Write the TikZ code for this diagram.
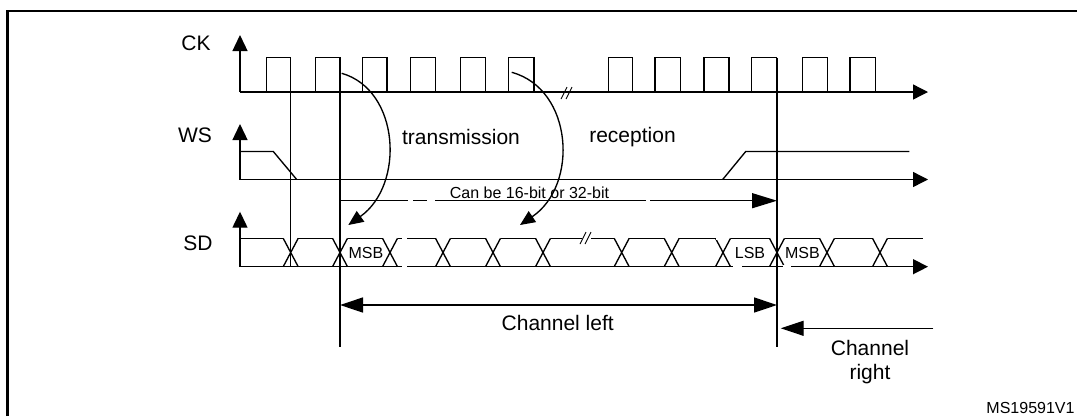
\documentclass[tikz,border=0pt]{standalone}
\usepackage{fontspec}
\setmainfont{Liberation Sans}
\usetikzlibrary{arrows.meta}
\tikzset{
  wave/.style={line width=1.35pt, line join=miter},
  axisarrow/.style={wave,-{Triangle[length=15pt,width=15pt]}},
  vaxis/.style={wave,-{Triangle[length=16pt,width=15pt]}},
  curvearrow/.style={wave,-{Triangle[length=15pt,width=13pt]}},
  spanarrow/.style={wave,-{Triangle[length=25pt,width=15pt]}},
  chanarrow/.style={wave,{Triangle[length=23pt,width=15pt]}-{Triangle[length=23pt,width=15pt]}},
  chanright/.style={wave,-{Triangle[length=23pt,width=15pt]}},
  biglbl/.style={inner sep=0pt, font=\fontsize{21}{24}\selectfont},
  smalllbl/.style={inner sep=0pt, font=\fontsize{16}{19}\selectfont},
  gapmark/.style={white, line width=3pt},
  framebar/.style={line width=2.5pt}
}
\begin{document}
\begin{tikzpicture}[x=1pt,y=-1pt]
\useasboundingbox (0,0) rectangle (1077,416);
% frame
\draw[framebar] (7.5,416) -- (7.5,11) -- (1077,11);

% signal labels
\node[biglbl] (ck) at (196,43) {CK};
\node[biglbl] (ws) at (195,135) {WS};
\node[biglbl] (sd) at (198,243) {SD};

% ---------- CK ----------
\coordinate (ckO) at (240,92);
\coordinate (ckT) at (240,35);
\coordinate (ckE) at (928,92);
\draw[vaxis] (ckO) -- (ckT);
\draw[axisarrow] (ckO) -- (ckE);
\foreach \r/\f in {266.3/290.7,315.3/340,362.3/387,410.3/435.3,460.3/485.7,508.7/534,
                   608.3/632.7,655/680.3,704/729,751.7/776.7,802.3/827.7,850/875.7}
  \draw[wave] (\r,92) -- (\r,57.5) -- (\f,57.5) -- (\f,92);
% break mark on CK
\draw[line width=0.9pt] (561,99) -- (567,87) (566,99) -- (572,87);

% ---------- WS ----------
\coordinate (wsO) at (240,179.5);
\coordinate (wsT) at (240,124);
\coordinate (wsE) at (928,179.5);
\draw[vaxis] (wsO) -- (wsT);
\draw[axisarrow] (wsO) -- (wsE);
\draw[wave] (240,151.5) -- (273.3,151.5) -- (296.7,179.5);
\draw[wave] (722.7,179.5) -- (745.7,151.5) -- (909.3,151.5);

% ---------- SD ----------
\coordinate (sdO) at (240,266.7);
\coordinate (sdT) at (240,211.7);
\coordinate (sdE) at (928,266.7);
\draw[vaxis] (sdO) -- (sdT);
\draw[axisarrow] (sdO) -- (sdE);
\foreach \c in {290.7,340,390,443,493,543,621.7,671.7,723,777,827,880}
  \draw[wave] (\c-7.5,238.3) -- (\c+7.5,266.7) (\c-7.5,266.7) -- (\c+7.5,238.3);
\draw[wave] (240,238.3) -- (283.2,238.3);
\foreach \a/\b in {290.7/340,340/390,390/443,443/493,493/543,543/621.7,
                   621.7/671.7,671.7/723,723/777,777/827,827/880}
  \draw[wave] (\a+7.5,238.3) -- (\b-7.5,238.3);
\draw[wave] (887.5,238.3) -- (923.3,238.3);
% small breaks in the SD lines
\draw[gapmark] (402,238.3) -- (407,238.3) (402,266.7) -- (407,266.7)
               (733,266.7) -- (742,266.7) (783,266.7) -- (791,266.7)
               (716,238.3) -- (719,238.3);
% break mark on SD
\draw[gapmark] (582,238.3) -- (591,238.3);
\draw[line width=0.9pt] (580,244) -- (586,232) (585,244) -- (591,232);

% data labels
\node[smalllbl] (msb1) at (366,252.5) {MSB};
\node[smalllbl] (lsb) at (750,252.5) {LSB};
\node[smalllbl] (msb2) at (802.5,252.5) {MSB};

% ---------- vertical guides ----------
\coordinate (g1t) at (290.7,57.5);
\coordinate (g1b) at (290.7,266.7);
\coordinate (g2t) at (340,57.5);
\coordinate (g2b) at (340,347.3);
\coordinate (g3t) at (777,57.5);
\coordinate (g3b) at (777,347.3);
\draw[wave] (g1t) -- (g1b);
\draw[wave] (g2t) -- (g2b);
\draw[wave] (g3t) -- (g3b);

% ---------- word length arrow ----------
\coordinate (spanA) at (340,200.7);
\coordinate (spanB) at (777,200.7);
\draw[spanarrow] (spanA) -- (spanB);
\draw[gapmark] (408,200.7) -- (413,200.7) (427,200.7) -- (435,200.7) (646,200.7) -- (650,200.7);
\node[smalllbl, anchor=base] (span) at (529.5,198.5) {Can be 16-bit or 32-bit};

% ---------- transmission / reception ----------
\coordinate (txS) at (341.7,73.3);
\coordinate (txE) at (348.3,225);
\coordinate (rxS) at (511.7,72.3);
\coordinate (rxE) at (520,225);
\draw[curvearrow] (txS) .. controls (400,90) and (405,185) .. (txE);
\draw[curvearrow] (rxS) .. controls (573,89) and (579,185) .. (rxE);
\node[biglbl] (tx) at (461,137.3) {transmission};
\node[biglbl] (rx) at (632.5,137.3) {reception};

% ---------- channels ----------
\coordinate (clA) at (340,305);
\coordinate (clB) at (777,305);
\draw[chanarrow] (clA) -- (clB);
\node[biglbl] (cl) at (557.7,323.3) {Channel left};
\coordinate (crA) at (933.3,328.3);
\coordinate (crB) at (780.7,328.3);
\draw[chanright] (crA) -- (crB);
\node[biglbl, align=center, font=\fontsize{21}{24}\selectfont] (cr) at (870,362) {Channel\\right};

\node[smalllbl] (ref) at (1030.5,408) {MS19591V1};
\end{tikzpicture}
\end{document}
